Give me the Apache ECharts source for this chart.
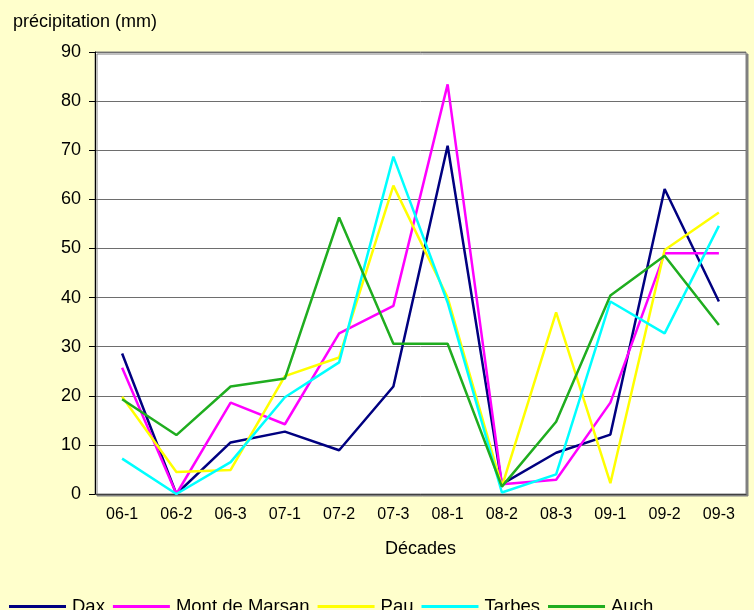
<!DOCTYPE html>
<html>
<head>
<meta charset="utf-8">
<script src="https://cdn.jsdelivr.net/npm/echarts@6/dist/echarts.min.js"></script>
<style>
	html, body { margin: 0; padding: 0; background: #ffffcc; }
	#chart { width: 754px; height: 610px; }
</style>
</head>
<body>
<div id="chart"></div>
<script>
// décades (mois-décade)
const decades = ["06-1", "06-2", "06-3", "07-1", "07-2", "07-3", "08-1", "08-2", "08-3", "09-1", "09-2", "09-3"];

// précipitations par station (mm)
const dax = [28.6, 0, 10.5, 12.7, 8.9, 21.9, 70.9, 2, 8.4, 12.1, 62.1, 39.2];
const montDeMarsan = [25.7, 0, 18.6, 14.2, 32.7, 38.3, 83.4, 2, 2.9, 18.6, 49, 49];
const pau = [19.8, 4.5, 4.9, 24, 27.8, 62.8, 40, 1.5, 37, 2.2, 49.7, 57.3];
const tarbes = [7.2, 0, 6.5, 19.7, 26.8, 68.7, 39, 0.3, 4, 39.2, 32.7, 54.6];
const auch = [19.3, 12, 21.9, 23.5, 56.3, 30.6, 30.6, 1.5, 14.7, 40.4, 48.5, 34.4];

const yTicks = [0, 10, 20, 30, 40, 50, 60, 70, 80, 90];

const stations = [
	{ name: "Dax", data: dax, color: "#000080" },
	{ name: "Mont de Marsan", data: montDeMarsan, color: "#ff00ff" },
	{ name: "Pau", data: pau, color: "#ffff00" },
	{ name: "Tarbes", data: tarbes, color: "#00ffff" },
	{ name: "Auch", data: auch, color: "#1fad1f" },
];

const font = "Liberation Sans, Arial, sans-serif";
const chart = echarts.init(document.getElementById("chart"));

const option = {
	backgroundColor: "#ffffcc",
	animation: false,
	textStyle: { fontFamily: font, color: "#000" },
	title: {
		text: "précipitation (mm)",
		left: 8,
		top: 8,
		textStyle: { fontFamily: font, fontSize: 18, fontWeight: "normal", color: "#000" },
	},
	legend: {
		left: 4,
		top: 592,
		itemWidth: 57,
		itemHeight: 3,
		itemGap: 8,
		icon: "rect",
		textStyle: { fontFamily: font, fontSize: 18.5, color: "#000", padding: [0, 0, 0, 1] },
		data: stations.map((s) => s.name),
	},
	grid: {
		left: 95,
		right: 8,
		top: 52,
		bottom: 116,
		show: true,
		backgroundColor: "#ffffff",
		borderColor: "#808080",
		borderWidth: 1,
		shadowColor: "#808080",
		shadowOffsetX: 2,
		shadowOffsetY: 2,
		shadowBlur: 0,
	},
	xAxis: {
		type: "category",
		data: decades,
		boundaryGap: true,
		name: "Décades",
		nameLocation: "middle",
		nameGap: 46,
		nameTextStyle: { fontFamily: font, fontSize: 18, color: "#000" },
		axisLine: { lineStyle: { color: "#404040", width: 1 } },
		axisTick: { show: false },
		axisLabel: { fontFamily: font, fontSize: 16, color: "#000", margin: 13 },
	},
	yAxis: {
		type: "value",
		min: yTicks[0],
		max: yTicks[yTicks.length - 1],
		interval: 10,
		axisLine: { show: true, lineStyle: { color: "#000", width: 1 } },
		axisTick: { show: true, length: 6, lineStyle: { color: "#000" } },
		axisLabel: { fontFamily: font, fontSize: 18, color: "#000", margin: 14 },
		splitLine: { show: true, lineStyle: { color: "#6e6e6e", width: 1 } },
	},
	series: stations.map((s) => ({
		name: s.name,
		type: "line",
		data: s.data,
		symbol: "none",
		lineStyle: { color: s.color, width: 2.5 },
		itemStyle: { color: s.color },
	})),
};

chart.setOption(option);
</script>
</body>
</html>
